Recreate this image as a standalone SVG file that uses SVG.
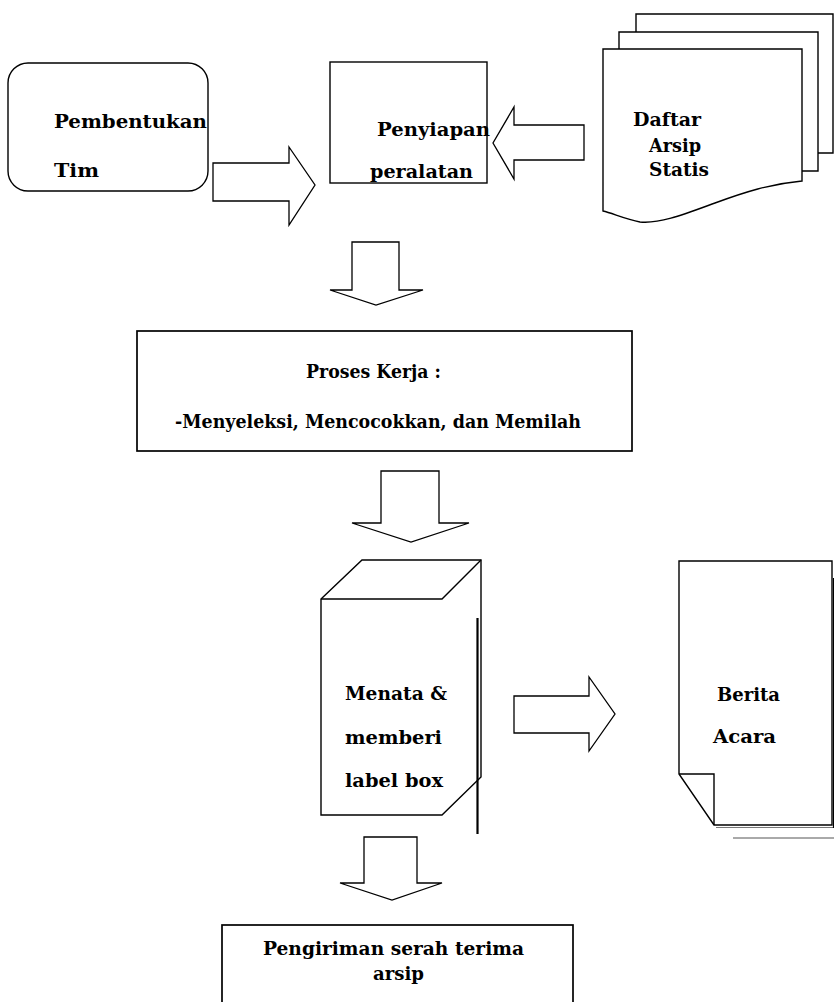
<svg xmlns="http://www.w3.org/2000/svg" width="834" height="1002" viewBox="0 0 834 1002">
  <style>
    .shape { fill: #fff; stroke: #000; stroke-width: 1.4; stroke-linejoin: miter; }
    .line { fill: none; stroke: #000; stroke-width: 1.4; }
    .arrow { fill: #fff; stroke: #000; stroke-width: 1.3; stroke-linejoin: miter; }
    .lbl { font-family: "DejaVu Serif", "Liberation Serif", serif; font-weight: bold; font-size: 18px; fill: #000; }
  </style>
  <rect width="834" height="1002" fill="#fff"/>

  <!-- block arrows between the steps -->
  <g id="connectors">
    <polygon class="arrow" points="213,163 289,163 289,147 315,185 289,225 289,201 213,201"/>
    <polygon class="arrow" points="584,125 514,125 514,107 493,143 514,179 514,160 584,160"/>
    <polygon class="arrow" points="352,242 399,242 399,290 423,290 376,305 330,290 352,290"/>
    <polygon class="arrow" points="381,471 439,471 439,523 469,523 411,542 352,523 381,523"/>
    <polygon class="arrow" points="514,696 589,696 589,677 615,714 589,751 589,733 514,733"/>
    <polygon class="arrow" points="364,837 417,837 417,883 442,883 392,900 340,883 364,883"/>
  </g>

  <g id="pembentukan-tim">
    <rect class="shape" x="8" y="63" width="200" height="128" rx="20" ry="20"/>
    <text class="lbl" x="54" y="128" textLength="153" lengthAdjust="spacingAndGlyphs">Pembentukan</text>
    <text class="lbl" x="54" y="177" textLength="45" lengthAdjust="spacingAndGlyphs">Tim</text>
  </g>

  <g id="penyiapan-peralatan">
    <rect class="shape" x="330" y="62" width="157" height="121"/>
    <text class="lbl" x="377" y="136" textLength="113" lengthAdjust="spacingAndGlyphs">Penyiapan</text>
    <text class="lbl" x="370" y="178" textLength="103" lengthAdjust="spacingAndGlyphs">peralatan</text>
  </g>

  <g id="daftar-arsip-statis">
    <path class="shape" d="M636,32 V14 H833 V153 H818"/>
    <path class="shape" d="M619,49 V32 H818 V171 H802"/>
    <path class="shape" d="M603,49 H802 V181 C770,184 745,192 715,203 C685,214 660,224 640,222 C625,219 612,213 603,211 Z"/>
    <text class="lbl" x="633" y="126" textLength="68" lengthAdjust="spacingAndGlyphs">Daftar</text>
    <text class="lbl" x="649" y="152" textLength="52" lengthAdjust="spacingAndGlyphs">Arsip</text>
    <text class="lbl" x="649" y="176" textLength="60" lengthAdjust="spacingAndGlyphs">Statis</text>
  </g>

  <g id="proses-kerja">
    <rect class="shape" x="137" y="331" width="495" height="120" style="stroke-width:1.7"/>
    <text class="lbl" x="306" y="378" textLength="135" lengthAdjust="spacingAndGlyphs">Proses Kerja :</text>
    <text class="lbl" x="175" y="428" textLength="406" lengthAdjust="spacingAndGlyphs">-Menyeleksi, Mencocokkan, dan Memilah</text>
  </g>

  <g id="menata-label-box">
    <path class="shape" d="M321,599 L362,560 H481 V777 L442,815 H321 Z"/>
    <path class="line" d="M321,599 H442 L481,560"/>
    <line x1="477.5" y1="618" x2="477.5" y2="834" stroke="#000" stroke-width="2.2"/>
    <text class="lbl" x="345" y="700" textLength="102" lengthAdjust="spacingAndGlyphs">Menata &amp;</text>
    <text class="lbl" x="345" y="744" textLength="97" lengthAdjust="spacingAndGlyphs">memberi</text>
    <text class="lbl" x="345" y="787" textLength="98" lengthAdjust="spacingAndGlyphs">label box</text>
  </g>

  <g id="berita-acara">
    <line x1="733" y1="838" x2="834" y2="838" stroke="#555" stroke-width="1"/>
    <line x1="716" y1="827.5" x2="834" y2="827.5" stroke="#777" stroke-width="1"/>
    <path class="shape" d="M679,561 H832 V825 H714 L679,774 Z"/>
    <path class="line" d="M679,774 H714 V825"/>
    <line x1="833.5" y1="578" x2="833.5" y2="828" stroke="#000" stroke-width="1.2"/>
    <text class="lbl" x="717" y="701" textLength="63" lengthAdjust="spacingAndGlyphs">Berita</text>
    <text class="lbl" x="713" y="743" textLength="63" lengthAdjust="spacingAndGlyphs">Acara</text>
  </g>

  <g id="pengiriman">
    <rect class="shape" x="222" y="925" width="351" height="90" style="stroke-width:1.7"/>
    <text class="lbl" x="263" y="955" textLength="261" lengthAdjust="spacingAndGlyphs">Pengiriman serah terima</text>
    <text class="lbl" x="373" y="980" textLength="51" lengthAdjust="spacingAndGlyphs">arsip</text>
  </g>
</svg>
